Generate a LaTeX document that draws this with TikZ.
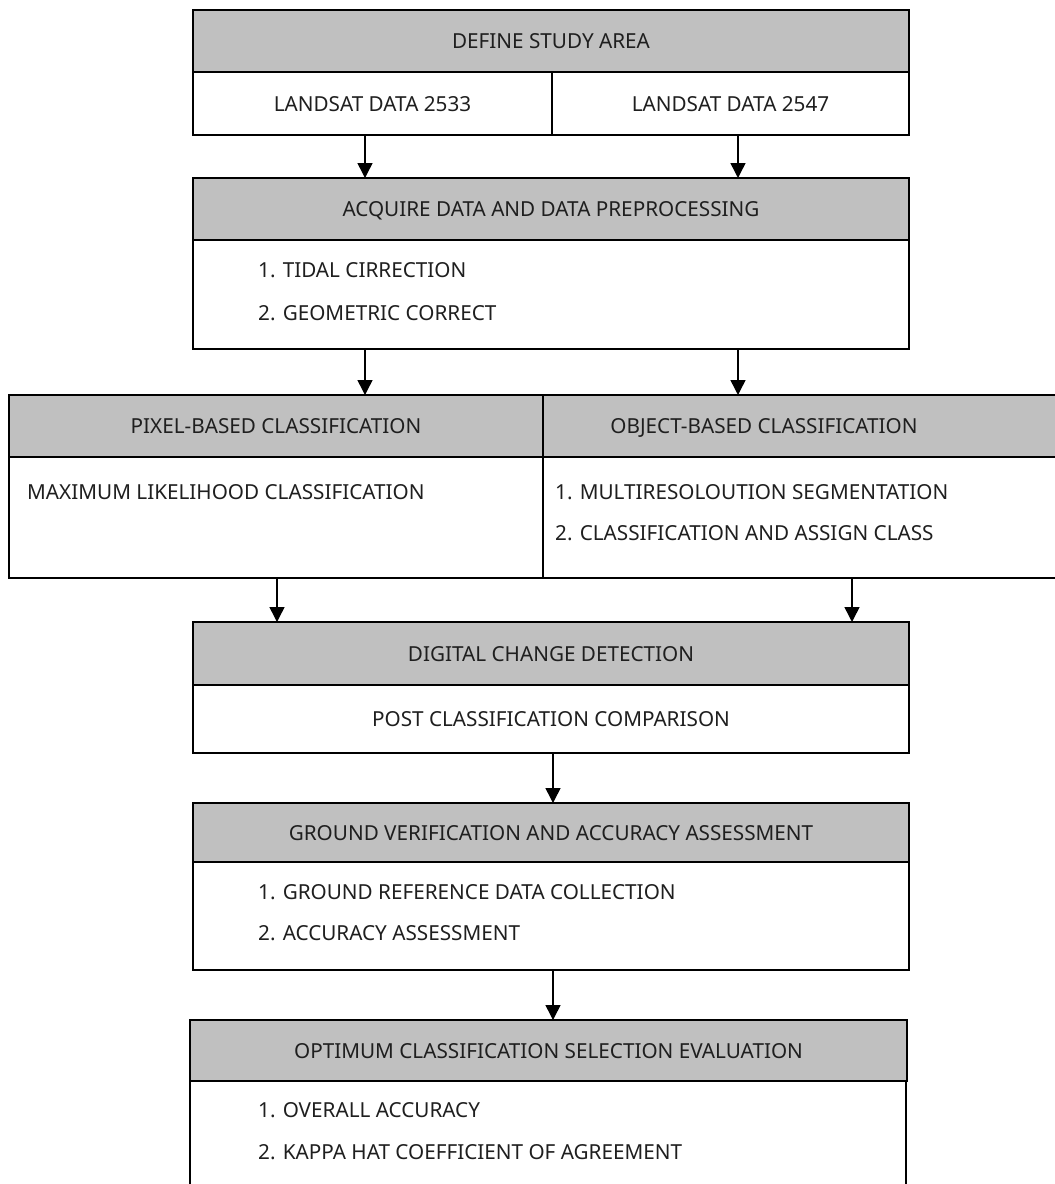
\documentclass[tikz,border=0pt]{standalone}
\usepackage{fontspec}
\setmainfont{Noto Sans}
\usetikzlibrary{arrows.meta}
\definecolor{hdrgray}{HTML}{C0C0C0}
\begin{document}
\begin{tikzpicture}[x=1pt,y=-1pt,
  box/.style={draw=black, line width=1.8pt, rectangle, inner sep=0pt, outer sep=0pt},
  hdr/.style={box, fill=hdrgray},
  bodybox/.style={box, fill=white},
  lbl/.style={inner sep=0pt, text height=15pt, text depth=0pt, font=\fontsize{20.7}{25}\selectfont, text=black!88},
  arr/.style={line width=1.5pt, -{Triangle[width=15pt,length=15pt]}}
]
\clip (0,0) rectangle (1055,1184);
\fill[white] (0,0) rectangle (1055,1184);

% Box 1
\node[hdr, minimum width=716pt, minimum height=62pt] (h1) at (551,41) {};
\node[bodybox, minimum width=359pt, minimum height=63pt] (c1a) at (372.5,103.5) {};
\node[bodybox, minimum width=357pt, minimum height=63pt] (c1b) at (730.5,103.5) {};
\node[lbl] (t1) at (h1) {DEFINE STUDY AREA};
\node[lbl] (t1a) at (c1a) {LANDSAT DATA 2533};
\node[lbl] (t1b) at (c1b) {LANDSAT DATA 2547};

% Box 2
\node[hdr, minimum width=716pt, minimum height=62pt] (h2) at (551,209) {};
\node[bodybox, minimum width=716pt, minimum height=109pt] (b2) at (551,294.5) {};
\node[lbl] (t2) at (h2) {ACQUIRE DATA AND DATA PREPROCESSING};
\node[lbl, anchor=west] (t2a) at (258,270) {1. TIDAL CIRRECTION};
\node[lbl, anchor=west] (t2b) at (258,313) {2. GEOMETRIC CORRECT};

% Box 3
\node[hdr, minimum width=534pt, minimum height=62pt] (h3a) at (276,426) {};
\node[hdr, minimum width=514pt, minimum height=62pt] (h3b) at (800,426) {};
\node[bodybox, minimum width=534pt, minimum height=121pt] (b3a) at (276,517.5) {};
\node[bodybox, minimum width=514pt, minimum height=121pt] (b3b) at (800,517.5) {};
\node[lbl] (t3a) at (h3a) {PIXEL-BASED CLASSIFICATION};
\node[lbl] (t3b) at (764,426) {OBJECT-BASED CLASSIFICATION};
\node[lbl, anchor=west] (t3c) at (27,492) {MAXIMUM LIKELIHOOD CLASSIFICATION};
\node[lbl, anchor=west] (t3d) at (555,492) {1. MULTIRESOLOUTION SEGMENTATION};
\node[lbl, anchor=west] (t3e) at (555,533) {2. CLASSIFICATION AND ASSIGN CLASS};

% Box 4
\node[hdr, minimum width=716pt, minimum height=63pt] (h4) at (551,653.5) {};
\node[bodybox, minimum width=716pt, minimum height=68pt] (b4) at (551,719) {};
\node[lbl] (t4) at (h4) {DIGITAL CHANGE DETECTION};
\node[lbl] (t4a) at (b4) {POST CLASSIFICATION COMPARISON};

% Box 5
\node[hdr, minimum width=716pt, minimum height=59pt] (h5) at (551,832.5) {};
\node[bodybox, minimum width=716pt, minimum height=108pt] (b5) at (551,916) {};
\node[lbl] (t5) at (h5) {GROUND VERIFICATION AND ACCURACY ASSESSMENT};
\node[lbl, anchor=west] (t5a) at (258,892) {1. GROUND REFERENCE DATA COLLECTION};
\node[lbl, anchor=west] (t5b) at (258,933) {2. ACCURACY ASSESSMENT};

% Box 6
\node[bodybox, minimum width=716pt, minimum height=130pt] (b6) at (548,1146) {};
\node[hdr, minimum width=717pt, minimum height=61pt] (h6) at (548.5,1050.5) {};
\node[lbl] (t6) at (h6) {OPTIMUM CLASSIFICATION SELECTION EVALUATION};
\node[lbl, anchor=west] (t6a) at (258,1110) {1. OVERALL ACCURACY};
\node[lbl, anchor=west] (t6b) at (258,1152) {2. KAPPA HAT COEFFICIENT OF AGREEMENT};

% Connectors
\draw[arr] ([xshift=-7.5pt]c1a.south) -- ([xshift=-7.5pt]c1a.south |- h2.north);
\draw[arr] ([xshift=7.5pt]c1b.south) -- ([xshift=7.5pt]c1b.south |- h2.north);
\draw[arr] ([xshift=-186pt]b2.south) -- ([xshift=-186pt]b2.south |- h3a.north);
\draw[arr] ([xshift=187pt]b2.south) -- ([xshift=187pt]b2.south |- h3b.north);
\draw[arr] ([xshift=1pt]b3a.south) -- ([xshift=1pt]b3a.south |- h4.north);
\draw[arr] ([xshift=52pt]b3b.south) -- ([xshift=52pt]b3b.south |- h4.north);
\draw[arr] ([xshift=2pt]b4.south) -- ([xshift=2pt]b4.south |- h5.north);
\draw[arr] ([xshift=2pt]b5.south) -- ([xshift=2pt]b5.south |- h6.north);
\end{tikzpicture}
\end{document}
